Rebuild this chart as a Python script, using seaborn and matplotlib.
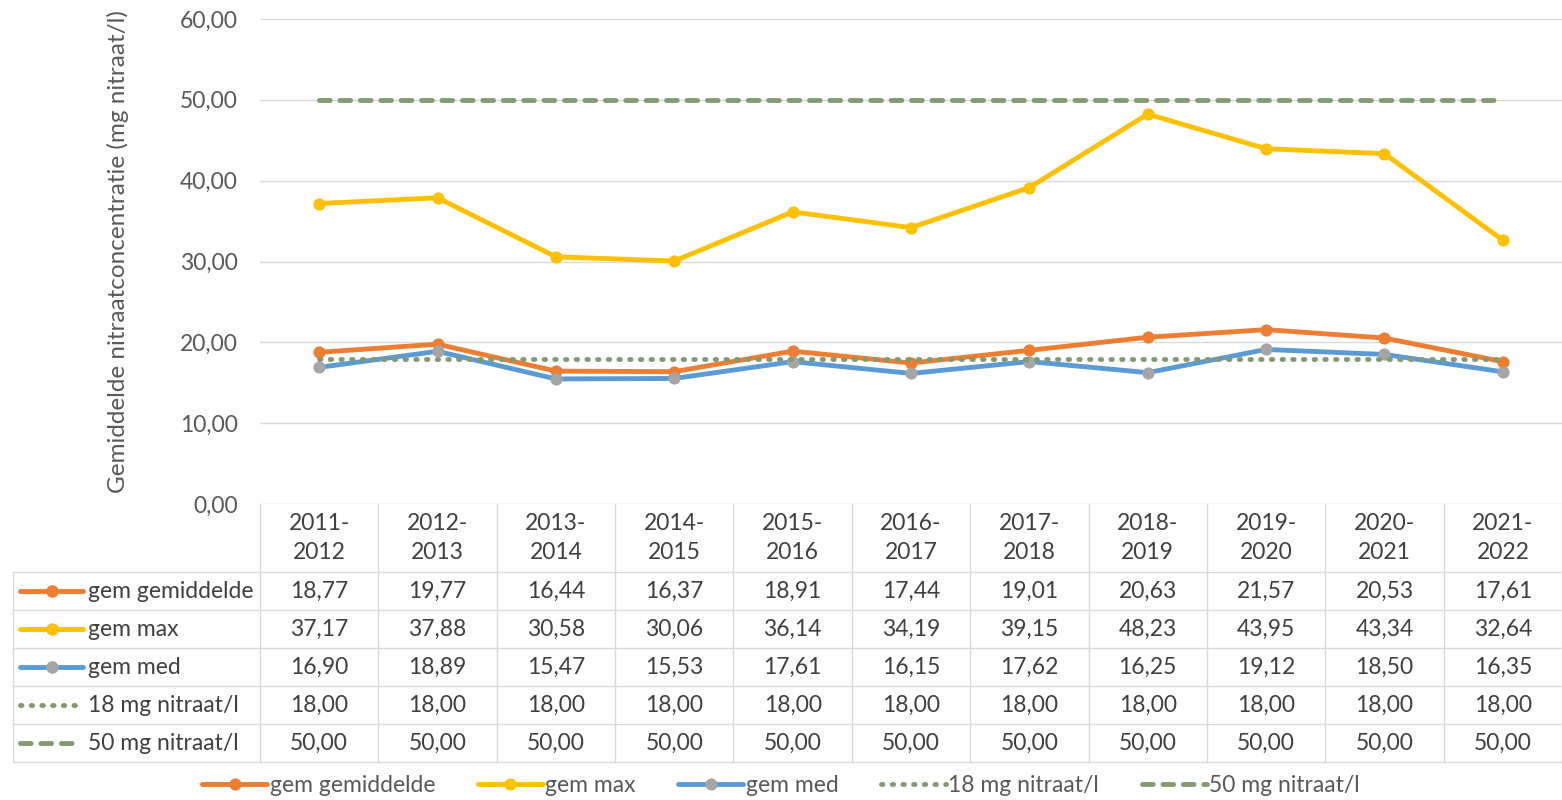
import matplotlib
matplotlib.use("Agg")
import matplotlib.pyplot as plt
import matplotlib.transforms as mtransforms
from matplotlib.lines import Line2D
import seaborn as sns
import pandas as pd

# data
seizoenen = ["2011-\n2012", "2012-\n2013", "2013-\n2014", "2014-\n2015", "2015-\n2016",
             "2016-\n2017", "2017-\n2018", "2018-\n2019", "2019-\n2020", "2020-\n2021",
             "2021-\n2022"]
gem_gemiddelde = [18.77, 19.77, 16.44, 16.37, 18.91, 17.44, 19.01, 20.63, 21.57, 20.53, 17.61]
gem_max = [37.17, 37.88, 30.58, 30.06, 36.14, 34.19, 39.15, 48.23, 43.95, 43.34, 32.64]
gem_med = [16.90, 18.89, 15.47, 15.53, 17.61, 16.15, 17.62, 16.25, 19.12, 18.50, 16.35]
norm_18 = [18.00] * 11
norm_50 = [50.00] * 11

series_namen = ["gem gemiddelde", "gem max", "gem med", "18 mg nitraat/l", "50 mg nitraat/l"]

sns.set_style("white")
plt.rcParams["font.family"] = ["Lato", "DejaVu Sans"]

W, H = 1562, 800
FS = 16.5
LW = 3.5
MS = 8
fig = plt.figure(figsize=(W / 100, H / 100), dpi=100)
ax = fig.add_axes([260 / W, 1 - 504 / H, (W - 260) / W, 485 / H])

df = pd.DataFrame({"x": range(len(seizoenen)),
                   "gem gemiddelde": gem_gemiddelde, "gem max": gem_max,
                   "gem med": gem_med, "18 mg nitraat/l": norm_18,
                   "50 mg nitraat/l": norm_50})

oranje = "#ED7D31"
geel = "#FFC000"
blauw = "#5B9BD5"
grijs = "#A5A5A5"
groen = "#849A72"

stijlen = {
    "gem gemiddelde": dict(color=oranje, marker="o", markersize=MS,
                           markerfacecolor=oranje, markeredgecolor=oranje),
    "gem max": dict(color=geel, marker="o", markersize=MS,
                    markerfacecolor=geel, markeredgecolor=geel),
    "gem med": dict(color=blauw, marker="o", markersize=MS,
                    markerfacecolor=grijs, markeredgecolor=grijs),
    "18 mg nitraat/l": dict(color=groen, linestyle=(0, (0.3, 1.9)),
                            dash_capstyle="round"),
    "50 mg nitraat/l": dict(color=groen, linestyle=(0, (2.2, 2.0)),
                            dash_capstyle="round"),
}

for i, naam in enumerate(series_namen):
    sns.lineplot(data=df, x="x", y=naam, ax=ax, linewidth=LW, label=naam,
                 zorder=3 + i, **stijlen[naam])

ax.set_xlim(-0.5, len(seizoenen) - 0.5)
ax.set_ylim(0, 60)
ax.set_yticks(range(0, 61, 10))
ax.set_yticklabels([f"{v:.2f}".replace(".", ",") for v in range(0, 61, 10)])
ax.tick_params(axis="y", length=0, pad=16, labelsize=FS, labelcolor="#595959")
ax.set_xticks([])
ax.set_xlabel("")
ax.set_ylabel("")
ax.grid(axis="y", color="#D9D9D9", linewidth=1)
for s in ax.spines.values():
    s.set_visible(False)
ax.get_legend().remove()

fig.text(118 / W, 1 - 252 / H, "Gemiddelde nitraatconcentratie (mg nitraat/l)",
         rotation=90, ha="center", va="center", fontsize=17.5, color="#595959")

# data table under the chart
lijn = "#D9D9D9"
tekst = "#404040"
trans = mtransforms.blended_transform_factory(ax.transData, fig.transFigure)
fy = lambda p: 1 - p / H
rijen_y = [572, 610, 648, 686, 724, 762]

for i in range(len(seizoenen) + 1):
    fig.add_artist(Line2D([i - 0.5, i - 0.5], [fy(504), fy(762)], transform=trans,
                          color=lijn, linewidth=1))
for y in rijen_y:
    fig.add_artist(Line2D([13 / W, 1], [fy(y), fy(y)], color=lijn, linewidth=1))
fig.add_artist(Line2D([13 / W, 13 / W], [fy(572), fy(762)], color=lijn, linewidth=1))

for i, s in enumerate(seizoenen):
    fig.text(i, fy(538), s, transform=trans, ha="center", va="center",
             fontsize=FS, color=tekst, linespacing=1.5)

waarden = [gem_gemiddelde, gem_max, gem_med, norm_18, norm_50]
for r, (naam, rij) in enumerate(zip(series_namen, waarden)):
    yc = fy((rijen_y[r] + rijen_y[r + 1]) / 2)
    for i, v in enumerate(rij):
        fig.text(i, yc, f"{v:.2f}".replace(".", ","), transform=trans,
                 ha="center", va="center", fontsize=FS, color=tekst)
    st = dict(stijlen[naam])
    if "marker" in st:
        x0, x1 = 20 / W, 83 / W
    else:
        x0, x1 = 20 / W, 77 / W
    fig.add_artist(Line2D([x0, x1], [yc, yc], linewidth=LW,
                          **{k: v for k, v in st.items() if k != "marker"}))
    if "marker" in st:
        fig.add_artist(Line2D([(x0 + x1) / 2], [yc], linestyle="none", marker="o",
                              markersize=MS, markerfacecolor=st["markerfacecolor"],
                              markeredgecolor=st["markeredgecolor"]))
    fig.text(88 / W, yc, naam, ha="left", va="center", fontsize=FS, color=tekst)

handles, labels = ax.get_legend_handles_labels()
fig.legend(handles, labels, loc="center", bbox_to_anchor=(0.5, fy(786)), ncol=5,
           frameon=False, fontsize=FS, handlelength=2.85, handletextpad=0.1,
           columnspacing=1.85, labelcolor="#595959")

fig.savefig("out.png", dpi=100)
